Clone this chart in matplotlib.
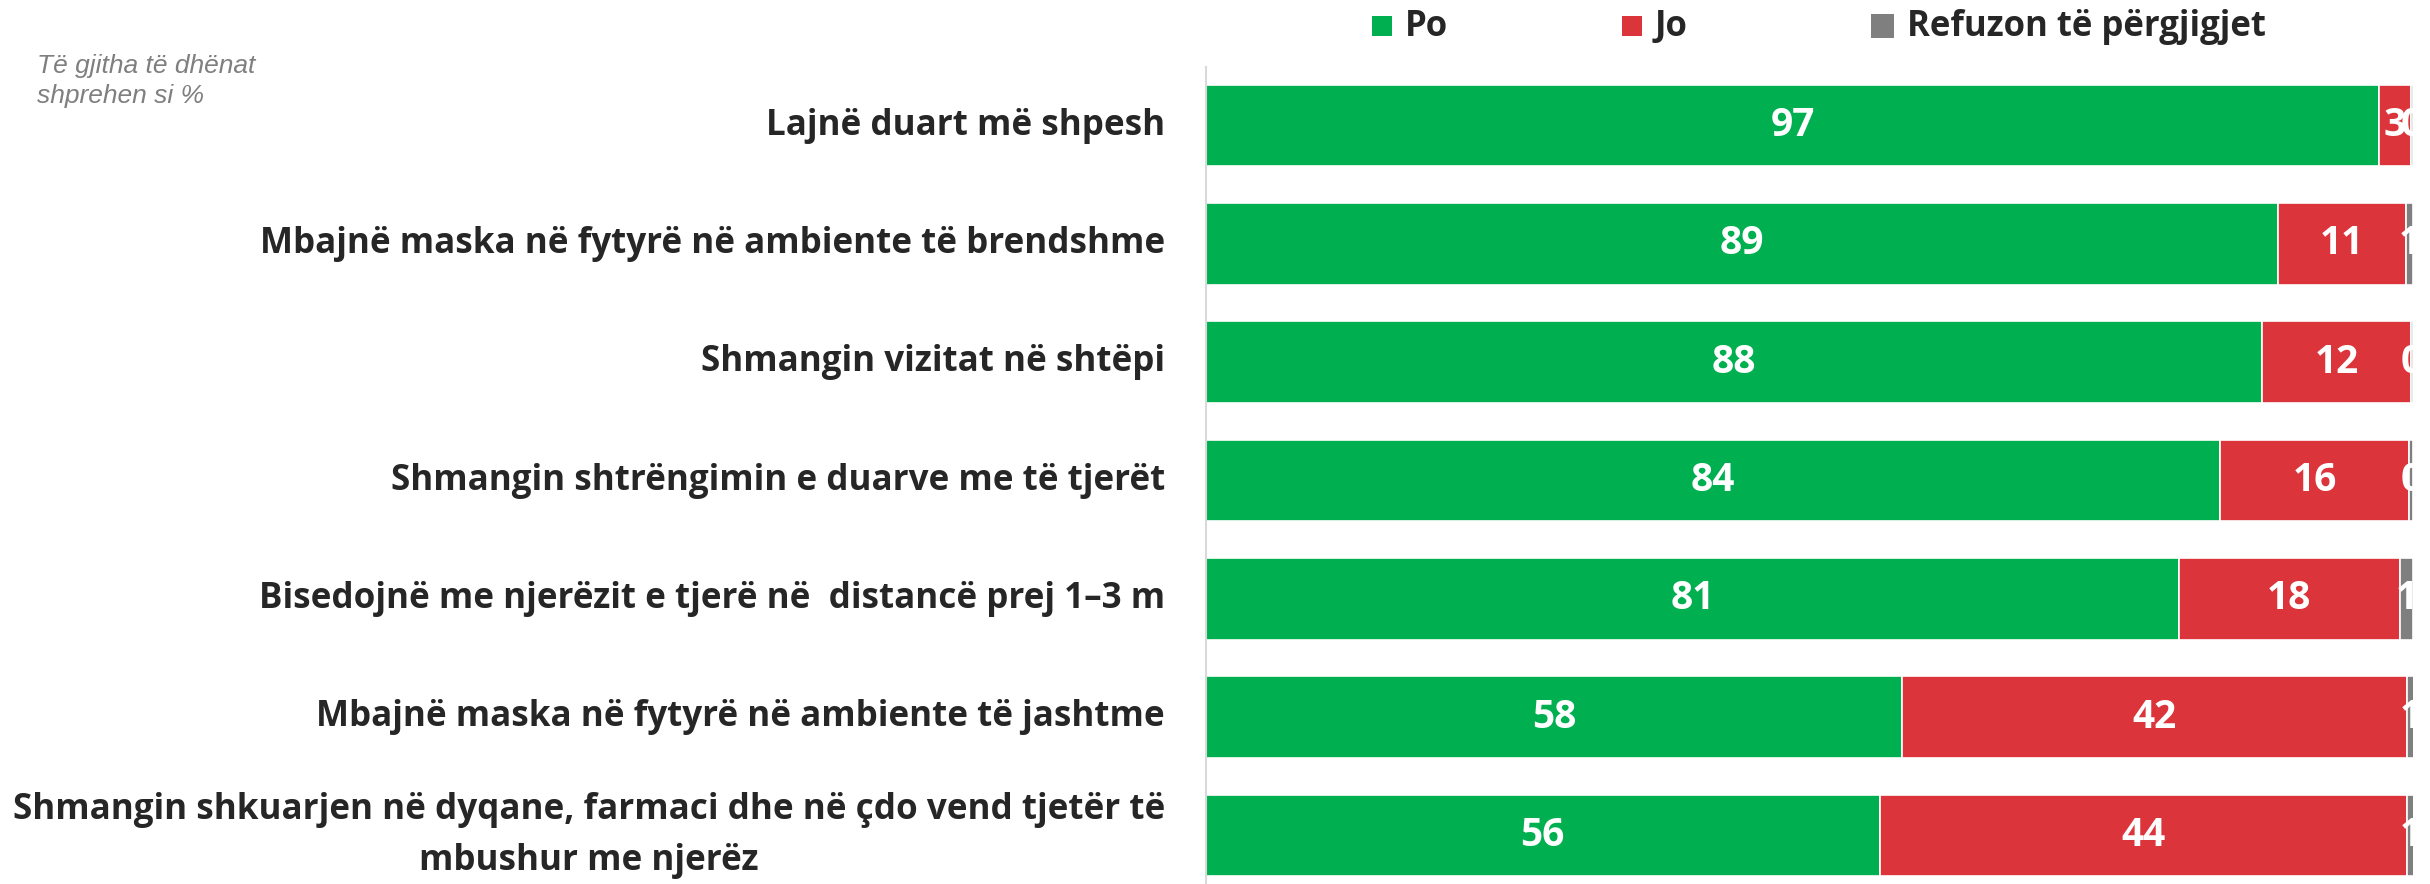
import matplotlib
matplotlib.use("Agg")
import matplotlib.pyplot as plt
from matplotlib.patches import Rectangle

categories = [
    "Lajnë duart më shpesh",
    "Mbajnë maska në fytyrë në ambiente të brendshme",
    "Shmangin vizitat në shtëpi",
    "Shmangin shtrëngimin e duarve me të tjerët",
    "Bisedojnë me njerëzit e tjerë në  distancë prej 1–3 m",
    "Mbajnë maska në fytyrë në ambiente të jashtme",
    "Shmangin shkuarjen në dyqane, farmaci dhe në çdo vend tjetër të\nmbushur me njerëz",
]
po = [97.2, 88.8, 87.5, 84.0, 80.6, 57.7, 55.8]
jo = [2.6, 10.6, 12.3, 15.7, 18.3, 41.8, 43.7]
refuzon = [0.2, 0.6, 0.2, 0.3, 1.1, 0.6, 0.6]
series_names = ["Po", "Jo", "Refuzon të përgjigjet"]
colors = ["#00B050", "#DC343B", "#7F7F7F"]
note = "Të gjitha të dhënat\nshprehen si %"

W, H = 2430, 884
fig = plt.figure(figsize=(W / 100, H / 100), dpi=100)
ax = fig.add_axes([1206 / W, -10.5 / H, (2413 - 1206) / W, (884 - 66.5 + 10.5) / H])

ypos = list(range(len(categories)))
left = [0.0] * len(categories)
for vals, name, col in zip([po, jo, refuzon], series_names, colors):
    ax.barh(ypos, vals, left=left, height=0.69, color=col,
            edgecolor="white", linewidth=1.2, label=name)
    for y, v, l in zip(ypos, vals, left):
        ax.text(l + v / 2, y, f"{round(v):d}", ha="center", va="center",
                color="white", fontsize=28, fontweight="bold",
                family="Open Sans", clip_on=True)
    left = [a + b for a, b in zip(left, vals)]

ax.set_xlim(0, 100)
ax.set_ylim(len(categories) - 0.5, -0.5)
ax.set_xticks([])
ax.set_yticks([])
for s in ["top", "right", "bottom"]:
    ax.spines[s].set_visible(False)
ax.spines["left"].set_color("#D9D9D9")
ax.spines["left"].set_linewidth(1.5)

for y, c in zip(ypos, categories):
    ax.text(-41 / 12.07, y, c, ha="right", va="center", multialignment="center",
            fontsize=25.2, fontweight="bold", color="#262626", family="Open Sans",
            linespacing=1.58)

# legend (manual placement)
sq_x = [1372, 1622, 1871]
sq_size = [20, 20, 23]
txt_x = [1405, 1655, 1907]
for name, col, sx, ss, tx in zip(series_names, colors, sq_x, sq_size, txt_x):
    fig.add_artist(Rectangle((sx / W, 1 - (26 + ss / 2) / H), ss / W, ss / H,
                             transform=fig.transFigure, facecolor=col,
                             edgecolor="none"))
    fig.text(tx / W, 1 - 27 / H, name, ha="left", va="center", fontsize=25,
             fontweight="bold", color="#262626", family="Open Sans")

fig.text(37 / W, 1 - 54 / H, note, ha="left", va="top", fontsize=19,
         style="italic", color="#7F7F7F", family="Liberation Sans", linespacing=1.3)

fig.savefig("out.png", dpi=100)
